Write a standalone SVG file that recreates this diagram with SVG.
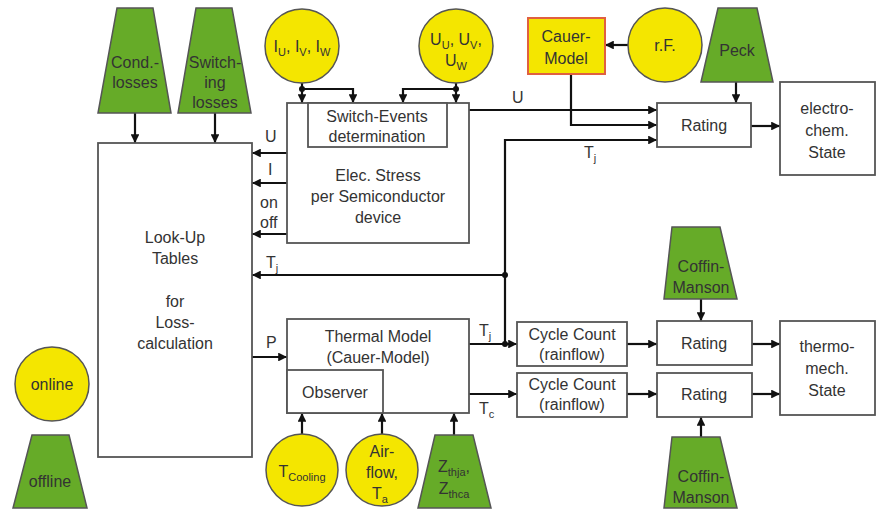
<svg xmlns="http://www.w3.org/2000/svg" width="880" height="513" viewBox="0 0 880 513">
<defs>
<marker id="ah" viewBox="0 0 10 10" refX="10" refY="5" markerWidth="4" markerHeight="4" orient="auto" markerUnits="strokeWidth">
<path d="M0,0 L10,5 L0,10 Z" fill="#111"/>
</marker>
<style>
text{font-family:"Liberation Sans",Arial,sans-serif;font-size:16px;fill:#333;text-anchor:middle}
.box{fill:#fff;stroke:#555;stroke-width:1.8}
.green{fill:#66ab28;stroke:#555;stroke-width:1.5}
.yellow{fill:#f4e600;stroke:#555;stroke-width:1.5}
.cauer{fill:#f4e600;stroke:#e06040;stroke-width:2}
.c{fill:none;stroke:#111;stroke-width:2.2}
.ca{fill:none;stroke:#111;stroke-width:2.2;marker-end:url(#ah)}
.dot{fill:#111}
.lbl{text-anchor:start}
.sub{font-size:11px}
</style>
</defs>
<rect width="880" height="513" fill="#fff"/>

<g id="connectors">
<!-- losses to lookup -->
<line class="ca" x1="135" y1="113" x2="135" y2="143"/>
<line class="ca" x1="215" y1="113" x2="215" y2="143"/>
<!-- current circle -->
<line class="ca" x1="302" y1="83" x2="302" y2="103"/>
<polyline class="ca" points="302,89 353,89 353,103"/>
<circle class="dot" cx="302" cy="89" r="3"/>
<!-- voltage circle -->
<line class="ca" x1="456" y1="83" x2="456" y2="103"/>
<polyline class="ca" points="456,89 403,89 403,103"/>
<circle class="dot" cx="456" cy="89" r="3"/>
<!-- elec stress to lookup -->
<line class="ca" x1="287" y1="153" x2="252" y2="153"/>
<line class="ca" x1="287" y1="183" x2="252" y2="183"/>
<line class="ca" x1="287" y1="234" x2="252" y2="234"/>
<!-- Tj feedback -->
<line class="ca" x1="505" y1="275" x2="252" y2="275"/>
<circle class="dot" cx="505" cy="275" r="3"/>
<!-- P -->
<line class="ca" x1="252" y1="357" x2="287" y2="357"/>
<!-- thermal outputs -->
<line class="ca" x1="469" y1="344" x2="517" y2="344"/>
<circle class="dot" cx="505" cy="344" r="3"/>
<polyline class="ca" points="505,344 505,140 657,140"/>
<line class="ca" x1="469" y1="394" x2="517" y2="394"/>
<!-- bottom inputs -->
<line class="ca" x1="302" y1="434" x2="302" y2="413"/>
<line class="ca" x1="382" y1="434" x2="382" y2="413"/>
<line class="ca" x1="454" y1="435" x2="454" y2="413"/>
<!-- U to rating -->
<line class="ca" x1="469" y1="110" x2="657" y2="110"/>
<!-- Cauer to rating -->
<polyline class="ca" points="571,74 571,125 657,125"/>
<!-- rF to Cauer -->
<line class="ca" x1="628" y1="45" x2="605" y2="45"/>
<!-- Peck to rating -->
<line class="ca" x1="736" y1="82" x2="736" y2="103"/>
<!-- rating to electro-chem -->
<line class="ca" x1="751" y1="126" x2="780" y2="126"/>
<!-- cycle count to rating -->
<line class="ca" x1="627" y1="344" x2="657" y2="344"/>
<line class="ca" x1="627" y1="394" x2="657" y2="394"/>
<!-- rating to thermo-mech -->
<line class="ca" x1="752" y1="344" x2="780" y2="344"/>
<line class="ca" x1="752" y1="394" x2="780" y2="394"/>
<!-- coffin-manson -->
<line class="ca" x1="701" y1="299" x2="701" y2="321"/>
<line class="ca" x1="701" y1="437" x2="701" y2="417"/>
</g>

<g id="cond-losses">
<polygon class="green" points="117,8 153,8 171,113 98,113"/>
<text x="135" y="68">Cond.-</text>
<text x="135" y="88">losses</text>
</g>
<g id="switching-losses">
<polygon class="green" points="196,8 232,8 251,113 178,113"/>
<text x="215" y="68">Switch-</text>
<text x="215" y="88">ing</text>
<text x="215" y="108">losses</text>
</g>
<g id="lookup">
<rect class="box" x="98" y="143" width="154" height="314"/>
<text x="175" y="243">Look-Up</text>
<text x="175" y="264">Tables</text>
<text x="175" y="307">for</text>
<text x="175" y="328">Loss-</text>
<text x="175" y="349">calculation</text>
</g>
<g id="currents">
<circle class="yellow" cx="302" cy="46" r="37"/>
<text x="302" y="52">I<tspan class="sub" dy="4">U</tspan><tspan dy="-4">, I</tspan><tspan class="sub" dy="4">V</tspan><tspan dy="-4">, I</tspan><tspan class="sub" dy="4">W</tspan></text>
</g>
<g id="voltages">
<circle class="yellow" cx="456" cy="46" r="37"/>
<text x="456" y="45">U<tspan class="sub" dy="4">U</tspan><tspan dy="-4">, U</tspan><tspan class="sub" dy="4">V</tspan><tspan dy="-4">,</tspan></text>
<text x="456" y="66">U<tspan class="sub" dy="4">W</tspan></text>
</g>
<g id="elec-stress">
<rect class="box" x="287" y="103" width="182" height="140"/>
<rect class="box" x="308" y="103" width="139" height="44"/>
<text x="377" y="122">Switch-Events</text>
<text x="377" y="142">determination</text>
<text x="378" y="181">Elec. Stress</text>
<text x="378" y="202">per Semiconductor</text>
<text x="378" y="223">device</text>
</g>
<g id="labels">
<text class="lbl" x="265" y="142">U</text>
<text class="lbl" x="268" y="175">I</text>
<text class="lbl" x="260" y="208">on</text>
<text class="lbl" x="260" y="228">off</text>
<text class="lbl" x="266" y="268">T<tspan class="sub" dy="4">j</tspan></text>
<text class="lbl" x="266" y="348">P</text>
<text class="lbl" x="479" y="336">T<tspan class="sub" dy="4">j</tspan></text>
<text class="lbl" x="479" y="414">T<tspan class="sub" dy="4">c</tspan></text>
<text class="lbl" x="512" y="103">U</text>
<text class="lbl" x="584" y="158">T<tspan class="sub" dy="4">j</tspan></text>
</g>
<g id="thermal-model">
<rect class="box" x="287" y="319" width="182" height="94"/>
<rect class="box" x="287" y="370" width="96" height="43"/>
<text x="378" y="342">Thermal Model</text>
<text x="378" y="363">(Cauer-Model)</text>
<text x="335" y="398">Observer</text>
</g>
<g id="t-cooling">
<circle class="yellow" cx="302" cy="470" r="36"/>
<text x="302" y="477">T<tspan class="sub" dy="4">Cooling</tspan></text>
</g>
<g id="airflow">
<circle class="yellow" cx="382" cy="470" r="36"/>
<text x="382" y="457">Air-</text>
<text x="382" y="478">flow,</text>
<text x="380" y="499">T<tspan class="sub" dy="4">a</tspan></text>
</g>
<g id="zth">
<polygon class="green" points="435,435 473,435 491,508 418,508"/>
<text x="454" y="472">Z<tspan class="sub" dy="4">thja</tspan><tspan dy="-4">,</tspan></text>
<text x="454" y="494">Z<tspan class="sub" dy="4">thca</tspan></text>
</g>
<g id="cycle-count-1">
<rect class="box" x="517" y="322" width="110" height="44"/>
<text x="572" y="340">Cycle Count</text>
<text x="572" y="360">(rainflow)</text>
</g>
<g id="cycle-count-2">
<rect class="box" x="517" y="373" width="110" height="44"/>
<text x="572" y="390">Cycle Count</text>
<text x="572" y="410">(rainflow)</text>
</g>
<g id="rating-tm-1">
<rect class="box" x="657" y="321" width="95" height="44"/>
<text x="704" y="349">Rating</text>
</g>
<g id="rating-tm-2">
<rect class="box" x="657" y="373" width="95" height="44"/>
<text x="704" y="400">Rating</text>
</g>
<g id="thermo-mech-state">
<rect class="box" x="780" y="321" width="95" height="94"/>
<text x="827" y="352">thermo-</text>
<text x="827" y="374">mech.</text>
<text x="827" y="396">State</text>
</g>
<g id="coffin-manson-top">
<polygon class="green" points="672,227 720,227 737,299 664,299"/>
<text x="701" y="272">Coffin-</text>
<text x="701" y="293">Manson</text>
</g>
<g id="coffin-manson-bottom">
<polygon class="green" points="672,437 720,437 737,508 664,508"/>
<text x="701" y="482">Coffin-</text>
<text x="701" y="503">Manson</text>
</g>
<g id="cauer-model">
<rect class="cauer" x="528" y="18" width="77" height="56"/>
<text x="566" y="42">Cauer-</text>
<text x="566" y="64">Model</text>
</g>
<g id="rf">
<circle class="yellow" cx="665" cy="45" r="37"/>
<text x="665" y="51">r.F.</text>
</g>
<g id="peck">
<polygon class="green" points="718,8 757,8 773,82 701,82"/>
<text x="737" y="56">Peck</text>
</g>
<g id="rating-ec">
<rect class="box" x="657" y="103" width="94" height="44"/>
<text x="704" y="131">Rating</text>
</g>
<g id="electro-chem-state">
<rect class="box" x="780" y="82" width="95" height="93"/>
<text x="827" y="114">electro-</text>
<text x="827" y="136">chem.</text>
<text x="827" y="158">State</text>
</g>
<g id="online">
<circle class="yellow" cx="52" cy="384" r="37"/>
<text x="52" y="390">online</text>
</g>
<g id="offline">
<polygon class="green" points="32,435 69,435 87,508 13,508"/>
<text x="50" y="487">offline</text>
</g>
</svg>
